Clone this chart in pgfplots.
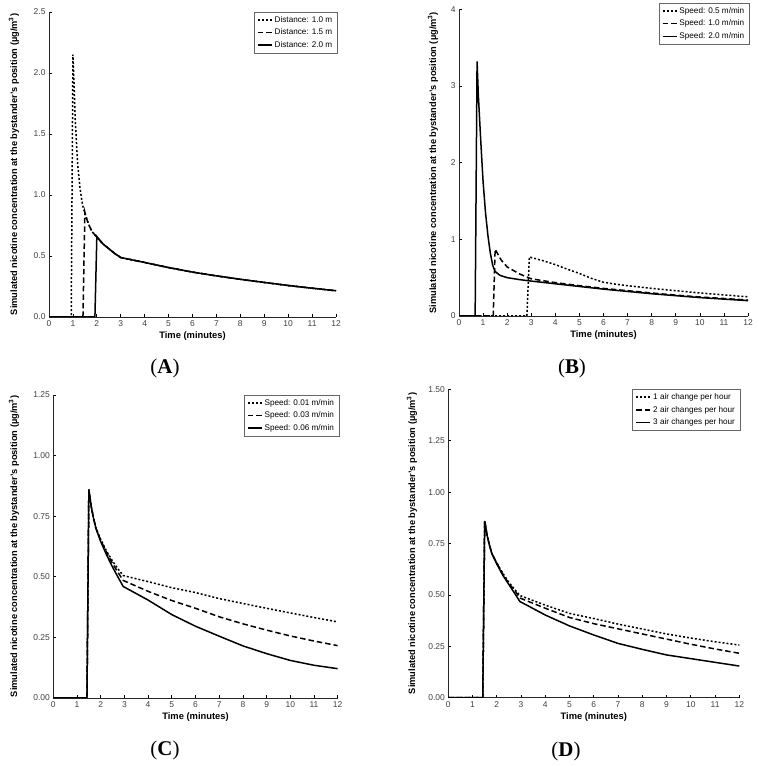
\documentclass[border=0pt]{standalone}
\usepackage{fontspec}
\setmainfont{Liberation Serif}
\setsansfont{Liberation Sans}
\usepackage{pgfplots}
\pgfplotsset{compat=1.18}
\pgfplotsset{
  myax/.style={
    scale only axis,
    axis x line*=bottom, axis y line*=left,
    xmin=0, xmax=12, xtick={0,1,...,12},
    tick align=inside, major tick length=2.5bp,
    tick style={black, line width=0.7bp},
    axis line style={black!85, line width=0.9bp},
    tick label style={font=\sffamily\fontsize{8.5}{8.5}\selectfont, text=black!75},
    /pgf/number format/assume math mode=true,
    xlabel={Time (minutes)},
    xlabel style={font=\sffamily\bfseries\fontsize{9.4}{10}\selectfont, at={(axis description cs:0.5,0)}, anchor=center, yshift=-19.5bp},
    ylabel={Simulated nicotine concentration at the bystander’s position (µg/m\textsuperscript{3})},
    ylabel style={font=\sffamily\bfseries\fontsize{9.3}{10}\selectfont, anchor=center},
    legend style={font=\sffamily\fontsize{8.2}{9}\selectfont, draw=black!60, line width=0.5bp, fill=white, anchor=north east, row sep=1.2bp, inner xsep=3bp, inner ysep=2bp},
    legend cell align=left,
    legend image code/.code={\draw[#1] (0bp,0bp) -- (14bp,0bp);},
  },
  sol/.style={black, line width=1.5bp},
  dsh/.style={black, line width=1.5bp, dash pattern=on 5.5bp off 3bp},
  dot/.style={black, line width=1.5bp, dash pattern=on 2bp off 2bp},
}
\begin{document}
\begin{tikzpicture}[x=1bp,y=1bp]
\path[use as bounding box] (0,0) rectangle (759,766);

% ---------- Panel A ----------
\begin{axis}[myax, at={(49bp,449bp)}, anchor=south west, width=287bp, height=305bp,
  ymin=0, ymax=2.5, ytick={0,0.5,1,1.5,2,2.5},
  yticklabel style={/pgf/number format/fixed, /pgf/number format/fixed zerofill, /pgf/number format/precision=1},
  ylabel style={at={(axis description cs:-0.122,0.5)}},
  legend style={at={(1.005,1)}}]
\addplot[dot] coordinates {(0,0) (0.93,0) (1.0,2.15) (1.05,1.9) (1.1,1.6) (1.2,1.25) (1.3,1.05) (1.4,0.92) (1.5,0.85) (1.6,0.79) (1.7,0.74) (1.8,0.70) (2.0,0.655) (2.25,0.60) (2.5,0.56) (2.75,0.52) (3.0,0.487) (4,0.447) (5,0.405) (6,0.368) (7,0.337) (8,0.309) (9,0.283) (10,0.258) (11,0.236) (12,0.215)};
\addlegendentry{Distance: 1.0 m}
\addplot[dsh] coordinates {(0,0) (1.42,0) (1.5,0.86) (1.6,0.79) (1.7,0.74) (1.8,0.70) (2.0,0.655) (2.25,0.60) (2.5,0.56) (2.75,0.52) (3.0,0.487) (4,0.447) (5,0.405) (6,0.368) (7,0.337) (8,0.309) (9,0.283) (10,0.258) (11,0.236) (12,0.215)};
\addlegendentry{Distance: 1.5 m}
\addplot[sol] coordinates {(0,0) (1.92,0) (2.0,0.66) (2.25,0.60) (2.5,0.56) (2.75,0.52) (3.0,0.487) (4,0.447) (5,0.405) (6,0.368) (7,0.337) (8,0.309) (9,0.283) (10,0.258) (11,0.236) (12,0.215)};
\addlegendentry{Distance: 2.0 m}
\end{axis}

% ---------- Panel B ----------
\begin{axis}[myax, at={(459bp,450bp)}, anchor=south west, width=289bp, height=306.7bp,
  ymin=0, ymax=4, ytick={0,1,2,3,4},
  ylabel style={at={(axis description cs:-0.090,0.5)}},
  legend style={at={(1.005,1.02)}}]
\addplot[dot] coordinates {(0,0) (2.82,0) (2.92,0.77) (3.5,0.72) (4,0.67) (4.5,0.61) (5,0.555) (5.5,0.49) (6,0.44) (6.5,0.415) (7,0.395) (8,0.36) (9,0.33) (10,0.30) (11,0.275) (12,0.25)};
\addlegendentry{Speed: 0.5 m/min}
\addplot[dsh] coordinates {(0,0) (1.42,0) (1.5,0.87) (1.75,0.73) (2,0.64) (2.5,0.55) (3,0.485) (4,0.435) (5,0.395) (6,0.36) (7,0.33) (8,0.30) (9,0.272) (10,0.248) (11,0.228) (12,0.208)};
\addlegendentry{Speed: 1.0 m/min}
\addplot[sol] coordinates {(0,0) (0.67,0) (0.75,3.32) (0.8,2.9) (0.9,2.3) (1.0,1.75) (1.1,1.35) (1.2,1.05) (1.3,0.82) (1.4,0.66) (1.5,0.58) (1.7,0.53) (2.0,0.50) (2.5,0.475) (3,0.455) (4,0.42) (5,0.385) (6,0.35) (7,0.32) (8,0.29) (9,0.265) (10,0.24) (11,0.22) (12,0.20)};
\addlegendentry{Speed: 2.0 m/min}
\end{axis}

% ---------- Panel C ----------
\begin{axis}[myax, at={(53.3bp,68bp)}, anchor=south west, width=284.4bp, height=303bp,
  ymin=0, ymax=1.25, ytick={0,0.25,0.5,0.75,1,1.25},
  yticklabel style={/pgf/number format/fixed, /pgf/number format/fixed zerofill, /pgf/number format/precision=2},
  ylabel style={at={(axis description cs:-0.138,0.5)}},
  legend style={at={(1.005,1)}}]
\addplot[dot] coordinates {(0,0) (1.42,0) (1.5,0.86) (1.6,0.79) (1.7,0.74) (1.8,0.70) (2.0,0.655) (2.25,0.605) (2.5,0.565) (2.75,0.53) (2.95,0.505) (4,0.48) (5,0.455) (6,0.435) (7,0.41) (8,0.39) (9,0.37) (10,0.351) (11,0.332) (12,0.314)};
\addlegendentry{Speed: 0.01 m/min}
\addplot[dsh] coordinates {(0,0) (1.42,0) (1.5,0.86) (1.6,0.79) (1.7,0.74) (1.8,0.70) (2.0,0.65) (2.25,0.60) (2.5,0.555) (2.75,0.515) (2.95,0.485) (4,0.44) (5,0.402) (6,0.37) (7,0.335) (8,0.306) (9,0.28) (10,0.256) (11,0.235) (12,0.216)};
\addlegendentry{Speed: 0.03 m/min}
\addplot[sol] coordinates {(0,0) (1.42,0) (1.5,0.86) (1.6,0.79) (1.7,0.74) (1.8,0.70) (2.0,0.645) (2.25,0.59) (2.5,0.54) (2.75,0.495) (2.95,0.46) (4,0.404) (5,0.344) (6,0.296) (7,0.255) (8,0.215) (9,0.183) (10,0.155) (11,0.135) (12,0.121)};
\addlegendentry{Speed: 0.06 m/min}
\end{axis}

% ---------- Panel D ----------
\begin{axis}[myax, at={(448.3bp,68.3bp)}, anchor=south west, width=291bp, height=308.4bp,
  ymin=0, ymax=1.5, ytick={0,0.25,0.5,0.75,1,1.25,1.5},
  yticklabel style={/pgf/number format/fixed, /pgf/number format/fixed zerofill, /pgf/number format/precision=2},
  ylabel style={at={(axis description cs:-0.125,0.5)}},
  legend style={at={(1.003,1)}}]
\addplot[dot] coordinates {(0,0) (1.42,0) (1.5,0.86) (1.6,0.79) (1.7,0.74) (1.8,0.70) (2.0,0.655) (2.25,0.605) (2.5,0.56) (2.75,0.525) (2.95,0.497) (4,0.45) (5,0.41) (6,0.385) (7,0.358) (8,0.334) (9,0.31) (10,0.29) (11,0.272) (12,0.256)};
\addlegendentry{1 air change per hour}
\addplot[dsh] coordinates {(0,0) (1.42,0) (1.5,0.86) (1.6,0.79) (1.7,0.74) (1.8,0.70) (2.0,0.655) (2.25,0.60) (2.5,0.555) (2.75,0.52) (2.95,0.485) (4,0.435) (5,0.39) (6,0.36) (7,0.335) (8,0.31) (9,0.285) (10,0.26) (11,0.237) (12,0.216)};
\addlegendentry{2 air changes per hour}
\addplot[sol] coordinates {(0,0) (1.42,0) (1.5,0.86) (1.6,0.79) (1.7,0.74) (1.8,0.70) (2.0,0.65) (2.25,0.595) (2.5,0.55) (2.75,0.505) (2.95,0.468) (4,0.402) (5,0.349) (6,0.305) (7,0.264) (8,0.235) (9,0.208) (10,0.19) (11,0.172) (12,0.154)};
\addlegendentry{3 air changes per hour}
\end{axis}

% ---------- Panel labels ----------
\node[font=\fontsize{21}{21}\selectfont] at (165bp,398bp) {(\textbf{A})};
\node[font=\fontsize{21}{21}\selectfont] at (572bp,398bp) {(\textbf{B})};
\node[font=\fontsize{21}{21}\selectfont] at (165bp,16bp) {(\textbf{C})};
\node[font=\fontsize{21}{21}\selectfont] at (566bp,15bp) {(\textbf{D})};
\end{tikzpicture}
\end{document}
